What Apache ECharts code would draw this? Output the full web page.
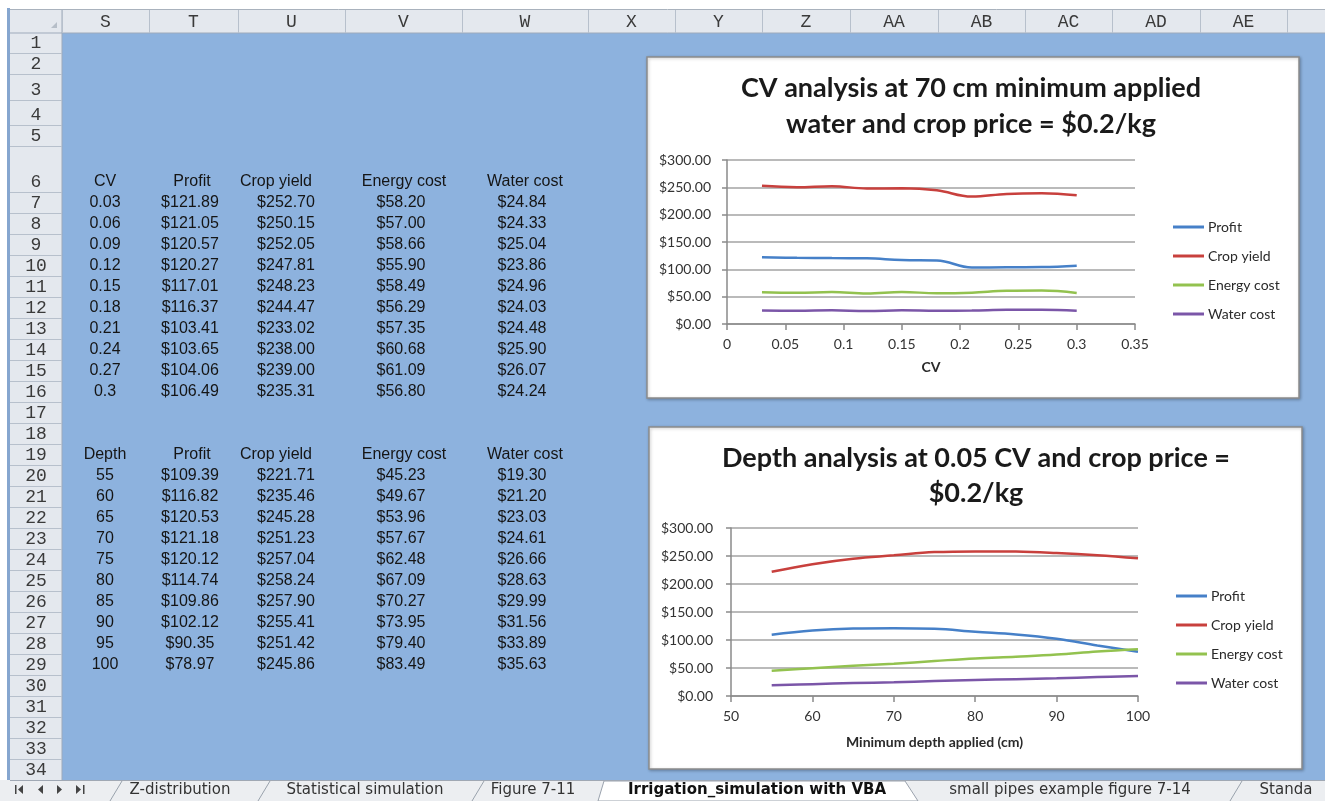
<!DOCTYPE html>
<html>
<head>
<meta charset="utf-8">
<script src="https://cdn.jsdelivr.net/npm/echarts@6/dist/echarts.min.js"></script>
<style>
html,body{margin:0;padding:0;background:#fff;}
#main{width:1325px;height:801px;}
</style>
</head>
<body>
<div id="main"></div>
<script>
// ---------- DATA ----------
const seriesNames = ['Profit', 'Crop yield', 'Energy cost', 'Water cost'];

const cvValues      = [0.03, 0.06, 0.09, 0.12, 0.15, 0.18, 0.21, 0.24, 0.27, 0.3];
const cvProfit      = [121.89, 121.05, 120.57, 120.27, 117.01, 116.37, 103.41, 103.65, 104.06, 106.49];
const cvCropYield   = [252.70, 250.15, 252.05, 247.81, 248.23, 244.47, 233.02, 238.00, 239.00, 235.31];
const cvEnergyCost  = [58.20, 57.00, 58.66, 55.90, 58.49, 56.29, 57.35, 60.68, 61.09, 56.80];
const cvWaterCost   = [24.84, 24.33, 25.04, 23.86, 24.96, 24.03, 24.48, 25.90, 26.07, 24.24];

const depthValues     = [55, 60, 65, 70, 75, 80, 85, 90, 95, 100];
const depthProfit     = [109.39, 116.82, 120.53, 121.18, 120.12, 114.74, 109.86, 102.12, 90.35, 78.97];
const depthCropYield  = [221.71, 235.46, 245.28, 251.23, 257.04, 258.24, 257.90, 255.41, 251.42, 245.86];
const depthEnergyCost = [45.23, 49.67, 53.96, 57.67, 62.48, 67.09, 70.27, 73.95, 79.40, 83.49];
const depthWaterCost  = [19.30, 21.20, 23.03, 24.61, 26.66, 28.63, 29.99, 31.56, 33.89, 35.63];

const columnLetters = ['S', 'T', 'U', 'V', 'W', 'X', 'Y', 'Z', 'AA', 'AB', 'AC', 'AD', 'AE'];
const rowNumbers = Array.from({length: 34}, (_, i) => String(i + 1));
const tabNames = ['Z-distribution', 'Statistical simulation', 'Figure 7-11', 'Irrigation_simulation with VBA', 'small pipes example figure 7-14', 'Standa'];

const chart1Title = 'CV analysis at 70 cm minimum applied\nwater and crop price = $0.2/kg';
const chart2Title = 'Depth analysis at 0.05 CV and crop price =\n$0.2/kg';
const chart1XName = 'CV';
const chart2XName = 'Minimum depth applied (cm)';

// ---------- STYLE / LAYOUT ----------
const W = 1325, H = 801;
const colors = ['#4680c8', '#c8403d', '#93c24f', '#7b56a8'];
const sheetBlue = '#8db2de';
const headGray = '#e4e8ee';
const headLine = '#b7c0cc';
const colBounds = [62, 149, 238, 345, 462, 588, 675, 762, 850, 938, 1025, 1112, 1200, 1287];
const rowBottoms = [53, 74, 100, 125, 146, 192];
for (let r = 7; r <= 34; r++) rowBottoms.push(192 + 21 * (r - 6));
const rowTops = [33].concat(rowBottoms.slice(0, -1));
const rowCenter = r => (rowTops[r - 1] + rowBottoms[r - 1]) / 2;
const rowLabelY = r => rowBottoms[r - 1] - 10;

const monoFont = '18px "Liberation Mono"';
const cellFont = '16px "Liberation Sans"';
const chartFont = 'Lato';

function txt(x, y, text, font, fill, align, extra) {
  return Object.assign({
    type: 'text', x: x, y: y, z: -3, silent: true,
    style: {text: text, font: font, fill: fill || '#222',
      align: align || 'center', verticalAlign: 'middle',
      textAlign: align || 'center', textVerticalAlign: 'middle'}
  }, extra || {});
}
function rect(x, y, w, h, style, z) {
  return {type: 'rect', z: z === undefined ? -8 : z, silent: true, shape: {x: x, y: y, width: w, height: h}, style: style};
}
function line(x1, y1, x2, y2, stroke, lw, z) {
  return {type: 'line', z: z === undefined ? -6 : z, silent: true, shape: {x1: x1, y1: y1, x2: x2, y2: y2}, style: {stroke: stroke, lineWidth: lw || 1}};
}

const els = [];
els.push(rect(0, 0, W, H, {fill: '#ffffff'}, -10));
els.push(rect(62, 33, W - 62, 780 - 33, {fill: sheetBlue}, -9));
els.push(rect(10, 10, W - 10, 23, {fill: headGray}, -9));
els.push(rect(10, 33, 52, 780 - 33, {fill: headGray}, -9));
els.push(rect(7, 8, 3, 772, {fill: '#86a6cf'}, -7));
els.push(line(10, 9.5, W, 9.5, '#a9b2bd', 1));
els.push(line(10, 33, W, 33, '#9eaabb', 1));
els.push(line(62, 10, 62, 780, '#9eaabb', 1));
els.push({type: 'polygon', z: -6, silent: true, shape: {points: [[51, 28], [57, 28], [57, 22]]}, style: {fill: '#b6bec8'}});
colBounds.forEach(b => els.push(line(b + 0.5, 10, b + 0.5, 33, headLine, 1)));
rowBottoms.forEach(b => els.push(line(10, b + 0.5, 62, b + 0.5, headLine, 1)));
columnLetters.forEach((c, i) => els.push(txt((colBounds[i] + colBounds[i + 1]) / 2, 22, c, monoFont, '#3a3a3a')));
rowNumbers.forEach((n, i) => els.push(txt(36, rowLabelY(i + 1), n, monoFont, '#3a3a3a')));

// ---------- TABLES ----------
const tableCols = [
  {head: 105, val: 105},
  {head: 192, val: 190},
  {head: 276, val: 286},
  {head: 404, val: 401},
  {head: 525, val: 522}
];
const money = v => '$' + v.toFixed(2);
function table(headRow, firstLabel, keys, cols) {
  const heads = [firstLabel].concat(seriesNames);
  heads.forEach((h, j) => els.push(txt(tableCols[j].head, rowLabelY(headRow), h, cellFont, '#151515')));
  keys.forEach((k, i) => {
    const y = rowCenter(headRow + 1 + i);
    els.push(txt(tableCols[0].val, y, String(k), cellFont, '#151515'));
    cols.forEach((arr, j) => els.push(txt(tableCols[j + 1].val, y, money(arr[i]), cellFont, '#151515')));
  });
}
table(6, 'CV', cvValues, [cvProfit, cvCropYield, cvEnergyCost, cvWaterCost]);
table(19, 'Depth', depthValues, [depthProfit, depthCropYield, depthEnergyCost, depthWaterCost]);

// ---------- TAB BAR ----------
els.push(rect(0, 780, W, 21, {fill: '#eceef1'}, -9));
els.push(line(10, 780.5, W, 780.5, '#a0a8b4', 1));
els.push({type: 'polygon', z: -7, silent: true, shape: {points: [[598, 801], [604, 781], [905, 781], [918, 801]]}, style: {fill: '#ffffff', stroke: '#9aa2ad', lineWidth: 1}});
[110, 258, 472].forEach(x => els.push(line(x, 801, x + 12, 781, '#9aa2ad', 1)));
[1230].forEach(x => els.push(line(x, 801, x + 12, 781, '#9aa2ad', 1)));
const tabCenters = [180, 365, 533, 757, 1070, 1286];
tabNames.forEach((t, i) => {
  const bold = i === 3;
  els.push(txt(tabCenters[i], 790, t, (bold ? 'bold ' : '') + '15px "DejaVu Sans"', bold ? '#111' : '#333', 'center', {z: -2}));
});
// navigation arrows
function tri(cx, dir) {
  const p = dir < 0 ? [[cx + 3, 785], [cx + 3, 794], [cx - 2, 789.5]] : [[cx - 3, 785], [cx - 3, 794], [cx + 2, 789.5]];
  els.push({type: 'polygon', z: -2, silent: true, shape: {points: p}, style: {fill: '#444'}});
}
tri(20, -1); els.push(rect(15, 785, 1.5, 9, {fill: '#444'}, -2));
tri(40, -1);
tri(60, 1);
tri(79, 1); els.push(rect(83, 785, 1.5, 9, {fill: '#444'}, -2));

// ---------- CHART BOXES & TITLES ----------
els.push(rect(647, 57, 652, 341, {fill: '#ffffff', stroke: '#8c8c8c', lineWidth: 1.5, shadowBlur: 3, shadowColor: 'rgba(0,0,0,0.25)', shadowOffsetX: 1, shadowOffsetY: 1}, -5));
els.push(rect(649, 427, 653, 342, {fill: '#ffffff', stroke: '#8c8c8c', lineWidth: 1.5, shadowBlur: 3, shadowColor: 'rgba(0,0,0,0.25)', shadowOffsetX: 1, shadowOffsetY: 1}, -5));
els.push({type: 'text', z: -3, silent: true, x: 971, y: 106,
  style: {text: chart1Title, font: 'bold 27px Lato', fill: '#1a1a1a', lineHeight: 36,
    align: 'center', verticalAlign: 'middle', textAlign: 'center', textVerticalAlign: 'middle'}});
els.push({type: 'text', z: -3, silent: true, x: 976, y: 475.5,
  style: {text: chart2Title, font: 'bold 27px Lato', fill: '#1a1a1a', lineHeight: 35,
    align: 'center', verticalAlign: 'middle', textAlign: 'center', textVerticalAlign: 'middle'}});

// ---------- AXES ----------
const axisColor = '#8a8a8a';
const labelStyle = {fontFamily: chartFont, fontSize: 14, color: '#333'};
function xAxisCfg(gi, min, max, interval, name, gap, margin) {
  return {
    type: 'value', gridIndex: gi, min: min, max: max, interval: interval,
    name: name, nameLocation: 'middle', nameGap: gap,
    nameTextStyle: {fontFamily: chartFont, fontSize: 14, fontWeight: 'bold', color: '#2a2a2a'},
    axisLine: {show: true, onZero: false, lineStyle: {color: axisColor, width: 1.5}},
    axisTick: {show: true, length: 6, lineStyle: {color: axisColor, width: 1.5}},
    axisLabel: Object.assign({margin: margin, formatter: v => String(+v.toFixed(2))}, labelStyle),
    splitLine: {show: false}, z: 3
  };
}
function yAxisCfg(gi, margin) {
  return {
    type: 'value', gridIndex: gi, min: 0, max: 300, interval: 50,
    axisLine: {show: true, lineStyle: {color: axisColor, width: 1.5}},
    axisTick: {show: true, length: 5, lineStyle: {color: axisColor, width: 1.5}},
    axisLabel: Object.assign({margin: margin, formatter: v => money(v)}, labelStyle),
    splitLine: {show: true, lineStyle: {color: '#a3a3a3', width: 1.5}}, z: 3
  };
}

function makeSeries(gi, xs, arrays) {
  return arrays.map((arr, j) => ({
    name: seriesNames[j], type: 'line', xAxisIndex: gi, yAxisIndex: gi,
    data: xs.map((x, i) => [x, arr[i]]),
    smooth: 0.4, showSymbol: false, symbol: 'none',
    lineStyle: {color: colors[j], width: 2.5}, itemStyle: {color: colors[j]},
    z: 4, animation: false
  }));
}

function legendCfg(left, top) {
  return {
    data: seriesNames, left: left, top: top, orient: 'vertical',
    icon: 'rect', itemWidth: 31, itemHeight: 3, itemGap: 13, selectedMode: false,
    textStyle: {fontFamily: chartFont, fontSize: 14, color: '#2a2a2a', lineHeight: 16, padding: [0, 0, 0, -1]}
  };
}

const chart = echarts.init(document.getElementById('main'), null, {renderer: 'canvas'});
chart.setOption({
  animation: false,
  backgroundColor: '#ffffff',
  graphic: {elements: els},
  grid: [
    {left: 727, top: 160, width: 408, height: 164},
    {left: 731, top: 528, width: 407, height: 168}
  ],
  xAxis: [
    xAxisCfg(0, 0, 0.35, 0.05, chart1XName, 36, 13),
    xAxisCfg(1, 50, 100, 10, chart2XName, 39, 13)
  ],
  yAxis: [yAxisCfg(0, 16), yAxisCfg(1, 18)],
  legend: [legendCfg(1168, 214), legendCfg(1171, 583)],
  series: makeSeries(0, cvValues, [cvProfit, cvCropYield, cvEnergyCost, cvWaterCost])
    .concat(makeSeries(1, depthValues, [depthProfit, depthCropYield, depthEnergyCost, depthWaterCost]))
});
</script>
</body>
</html>
